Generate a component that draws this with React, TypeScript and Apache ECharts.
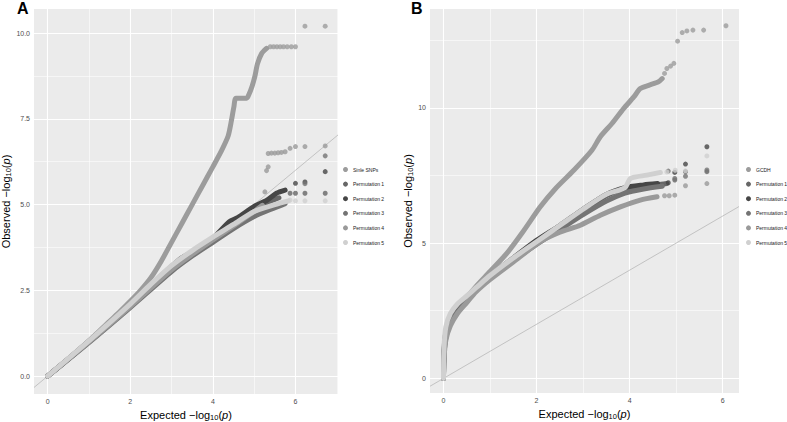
import React, { useEffect, useRef } from "react";
import * as echarts from "echarts";

// ---------- axis limits & ticks ----------
const xLimA = [-0.33, 7.03];
const yLimA = [-0.52, 10.7];
const xLimB = [-0.29, 6.35];
const yLimB = [-0.54, 13.65];
const xTicksA = [0, 2, 4, 6];
const xMinorA = [1, 3, 5, 7];
const yTicksA = [0, 2.5, 5, 7.5, 10];
const yMinorA = [1.25, 3.75, 6.25, 8.75];
const xTicksB = [0, 2, 4, 6];
const xMinorB = [1, 3, 5];
const yTicksB = [0, 5, 10];
const yMinorB = [2.5, 7.5, 12.5];

// ---------- legend names ----------
const namesA = ["Sinle SNPs", "Permutation 1", "Permutation 2", "Permutation 3", "Permutation 4", "Permutation 5"];
const namesB = ["GCDH", "Permutation 1", "Permutation 2", "Permutation 3", "Permutation 4", "Permutation 5"];

// ---------- panel A data ----------
const singleA = [[0,0],[0.5,0.5],[1,1.03],[1.5,1.6],[1.75,1.88],[2,2.18],[2.25,2.5],[2.5,2.87],[2.75,3.35],[3,3.9],[3.25,4.45],[3.5,5.0],[3.75,5.55],[4,6.1],[4.2,6.55],[4.37,7.0],[4.45,7.45],[4.51,7.85],[4.56,8.1],[4.82,8.1],[4.87,8.2],[4.95,8.45],[5.02,8.75],[5.08,9.1],[5.18,9.4],[5.3,9.55]];
const singleATail = [[5.39,9.6],[5.47,9.6],[5.55,9.6],[5.63,9.6],[5.71,9.6],[5.8,9.6],[5.9,9.6],[6.0,9.6],[6.23,10.2],[6.72,10.2]];
const perm1A = [[0,0],[1,1.0],[2,2.05],[3,3.12],[3.2,3.38],[3.5,3.55],[4,3.98],[4.5,4.45],[5,4.88],[5.3,5.05],[5.6,5.2]];
const perm1ATail = [[5.87,5.33],[6.0,5.33],[6.23,5.33],[6.72,5.33]];
const perm2A = [[0,0],[1,1.02],[2,2.08],[2.5,2.65],[3,3.2],[3.25,3.45],[3.5,3.62],[4,4.02],[4.4,4.5],[4.6,4.62],[5,4.95],[5.3,5.12],[5.54,5.33],[5.75,5.42]];
const perm2ATail = [[6.0,5.62],[6.23,5.66],[6.72,5.96]];
const perm3A = [[0,0],[1,0.98],[2,2.0],[3,3.05],[3.5,3.5],[4,3.9],[4.5,4.3],[5,4.65],[5.46,4.89],[5.75,5.03]];
const perm3ATail = [[6.23,5.61],[6.72,6.42]];
const perm4A = [[0,0],[1,1.0],[2,2.03],[3,3.1],[3.5,3.55],[4,3.97],[4.5,4.38],[5,4.8],[5.2,4.98]];
const perm4ATail = [[5.26,5.37],[5.3,5.99],[5.34,6.1],[5.34,6.49],[5.42,6.5],[5.5,6.5],[5.58,6.51],[5.66,6.52],[5.75,6.54],[5.87,6.64],[6.0,6.69],[6.23,6.69],[6.72,6.71]];
const perm5A = [[0,0],[1,1.03],[2,2.1],[2.5,2.68],[3,3.22],[3.5,3.66],[4,4.05],[4.5,4.42],[5,4.8],[5.5,5.0],[5.83,5.11]];
const perm5ATail = [[5.87,5.13],[6.0,5.11],[6.23,5.11],[6.72,5.11]];

// ---------- panel B data ----------
const gcdhB = [[0,0],[0.01,0.8],[0.05,1.6],[0.15,2.2],[0.3,2.6],[0.5,3.0],[0.7,3.4],[1.0,3.95],[1.36,4.62],[1.7,5.4],[2.08,6.34],[2.4,7.0],[2.8,7.69],[3.19,8.43],[3.37,8.93],[3.62,9.42],[3.87,9.97],[4.09,10.4],[4.23,10.71],[4.41,10.83],[4.62,10.96],[4.7,11.08]];
const gcdhBTail = [[4.75,11.27],[4.8,11.45],[4.88,11.54],[4.95,11.64],[5.03,12.46],[5.13,12.78],[5.23,12.84],[5.36,12.87],[5.59,12.87],[6.07,13.03]];
const perm1B = [[0,0],[0.01,1.0],[0.05,1.7],[0.15,2.2],[0.3,2.6],[0.5,2.95],[0.7,3.3],[1.0,3.75],[1.5,4.4],[2.0,5.05],[2.5,5.6],[3.0,6.2],[3.5,6.75],[3.8,6.95],[4.2,7.08],[4.6,7.15],[4.8,7.2]];
const perm1BTail = [[4.97,7.33],[5.2,7.64],[5.66,7.64]];
const perm2B = [[0,0],[0.01,0.9],[0.05,1.6],[0.15,2.15],[0.3,2.55],[0.5,2.95],[0.7,3.3],[1.0,3.78],[1.5,4.45],[2.0,5.1],[2.5,5.65],[3.0,6.25],[3.5,6.8],[3.9,7.05],[4.3,7.15],[4.6,7.2]];
const perm2BTail = [[4.83,7.23],[4.97,7.61],[5.2,7.92],[5.66,8.56]];
const perm3B = [[0,0],[0.01,0.8],[0.05,1.5],[0.15,2.05],[0.3,2.45],[0.5,2.85],[0.7,3.25],[1.0,3.7],[1.5,4.35],[2.0,4.95],[2.5,5.5],[3.0,6.05],[3.5,6.55],[3.9,6.85],[4.3,7.0],[4.7,7.1]];
const perm3BTail = [[4.83,7.66],[4.97,7.39],[5.2,7.47],[5.66,7.7]];
const perm4B = [[0,0],[0.01,0.7],[0.05,1.4],[0.15,1.95],[0.3,2.4],[0.5,2.8],[0.7,3.2],[1.0,3.65],[1.5,4.3],[2.08,5.05],[2.5,5.4],[2.94,5.66],[3.37,6.03],[3.8,6.34],[4.23,6.59],[4.59,6.71]];
const perm4BTail = [[4.75,6.75],[4.85,6.75],[4.97,6.77],[5.2,7.12],[5.66,7.2]];
const perm5B = [[0,0],[0.01,1.1],[0.05,1.9],[0.15,2.4],[0.3,2.75],[0.5,3.05],[0.7,3.35],[1.0,3.8],[1.5,4.45],[2.0,5.05],[2.5,5.65],[3.0,6.25],[3.5,6.8],[3.9,7.05],[4.02,7.39],[4.37,7.51],[4.66,7.61]];
const perm5BTail = [[4.8,7.63],[4.98,7.69],[5.2,7.67],[5.66,8.22]];

const COLORS = ["#9c9c9c", "#676767", "#464646", "#747474", "#9a9a9a", "#d0d0d0"];
const FONT = "'Liberation Sans', Arial, Helvetica, sans-serif";

function pair(name: string, line: number[][], tail: number[][], color: string, idx: number) {
  return [
    {
      type: "line", name, xAxisIndex: idx, yAxisIndex: idx, data: line,
      symbol: "none", showSymbol: false, smooth: 0.25, silent: true, z: 3,
      itemStyle: { color },
      lineStyle: { color, width: 5, cap: "round", join: "round" },
    },
    {
      type: "scatter", name, xAxisIndex: idx, yAxisIndex: idx, data: tail,
      symbol: "circle", symbolSize: 5, silent: true, z: 3,
      itemStyle: { color },
    },
  ];
}

function gridSeries(idx: number, xMaj: number[], xMin: number[], yMaj: number[], yMin: number[]) {
  const mk = (key: string, v: number, w: number) => ({ [key]: v, lineStyle: { color: "#ffffff", width: w, type: "solid" } });
  return {
    type: "line", xAxisIndex: idx, yAxisIndex: idx, data: [], silent: true, z: 1,
    markLine: {
      silent: true, z: 1, symbol: ["none", "none"], label: { show: false }, animation: false,
      data: [
        ...xMin.map((v) => mk("xAxis", v, 0.55)),
        ...yMin.map((v) => mk("yAxis", v, 0.55)),
        ...xMaj.map((v) => mk("xAxis", v, 1.1)),
        ...yMaj.map((v) => mk("yAxis", v, 1.1)),
      ],
    },
  };
}

function diag(idx: number, lim: number[]) {
  return {
    type: "line", xAxisIndex: idx, yAxisIndex: idx, silent: true, z: 2,
    data: [[lim[0], lim[0]], [lim[1], lim[1]]],
    symbol: "none", lineStyle: { color: "#b8b8b8", width: 0.8 },
  };
}

const axisName = (label: string) => `{a|${label} −log}{s|10}{a|(}{i|p}{a|)}`;
const nameRich = {
  a: { fontSize: 11, color: "#000", fontFamily: FONT, lineHeight: 13, verticalAlign: "middle" },
  s: { fontSize: 7.5, color: "#000", fontFamily: FONT, lineHeight: 13, verticalAlign: "bottom" },
  i: { fontSize: 11, color: "#000", fontFamily: FONT, fontStyle: "italic", lineHeight: 13, verticalAlign: "middle" },
};

function xAxis(idx: number, lim: number[], ticks: number[]) {
  return {
    type: "value", gridIndex: idx, min: lim[0], max: lim[1],
    name: axisName("Expected"), nameLocation: "middle", nameGap: 12.5,
    nameTextStyle: { rich: nameRich },
    axisLine: { show: false },
    splitLine: { show: false },
    axisTick: { show: true, length: 2.7, customValues: ticks, lineStyle: { color: "#333", width: 1 } },
    axisLabel: { customValues: ticks, color: "#4d4d4d", fontSize: 7, fontFamily: FONT, margin: 4, formatter: (v: number) => String(v) },
  };
}

function yAxis(idx: number, lim: number[], ticks: number[], digits: number, gap: number) {
  return {
    type: "value", gridIndex: idx, min: lim[0], max: lim[1],
    name: axisName("Observed"), nameLocation: "middle", nameGap: gap, nameRotate: 90,
    nameTextStyle: { rich: nameRich },
    axisLine: { show: false },
    splitLine: { show: false },
    axisTick: { show: true, length: 2.7, customValues: ticks, lineStyle: { color: "#333", width: 1 } },
    axisLabel: { customValues: ticks, color: "#4d4d4d", fontSize: 7, fontFamily: FONT, margin: 4, formatter: (v: number) => v.toFixed(digits) },
  };
}

function legend(left: number, names: string[]) {
  return {
    show: true, orient: "vertical", left, top: 167, icon: "circle", selectedMode: false,
    itemWidth: 5, itemHeight: 5, itemGap: 9.6, padding: 0,
    data: names,
    textStyle: { fontSize: 5, lineHeight: 5, color: "#1a1a1a", fontFamily: FONT },
  };
}

export default function App() {
  const ref = useRef<HTMLDivElement>(null);
  useEffect(() => {
    if (!ref.current) return;
    const chart = echarts.init(ref.current, undefined, { renderer: "svg" });
    const linesA = [singleA, perm1A, perm2A, perm3A, perm4A, perm5A];
    const tailsA = [singleATail, perm1ATail, perm2ATail, perm3ATail, perm4ATail, perm5ATail];
    const linesB = [gcdhB, perm1B, perm2B, perm3B, perm4B, perm5B];
    const tailsB = [gcdhBTail, perm1BTail, perm2BTail, perm3BTail, perm4BTail, perm5BTail];
    const series: any[] = [
      gridSeries(0, xTicksA, xMinorA, yTicksA, yMinorA),
      gridSeries(1, xTicksB, xMinorB, yTicksB, yMinorB),
      diag(0, xLimA),
      diag(1, xLimB),
    ];
    namesA.forEach((n, i) => series.push(...pair(n, linesA[i], tailsA[i], COLORS[i], 0)));
    namesB.forEach((n, i) => series.push(...pair(n, linesB[i], tailsB[i], COLORS[i], 1)));

    chart.setOption({
      animation: false,
      backgroundColor: "#ffffff",
      textStyle: { fontFamily: FONT },
      title: [
        { text: "A", left: 17, top: 0, padding: 0, textStyle: { fontSize: 16, fontWeight: "bold", color: "#000", fontFamily: FONT } },
        { text: "B", left: 411, top: 0, padding: 0, textStyle: { fontSize: 16, fontWeight: "bold", color: "#000", fontFamily: FONT } },
      ],
      grid: [
        { left: 34, top: 9, width: 304, height: 385, show: true, backgroundColor: "#ebebeb", borderWidth: 0, containLabel: false, outerBoundsMode: "none" },
        { left: 430, top: 9, width: 309, height: 384, show: true, backgroundColor: "#ebebeb", borderWidth: 0, containLabel: false, outerBoundsMode: "none" },
      ],
      xAxis: [xAxis(0, xLimA, xTicksA), xAxis(1, xLimB, xTicksB)],
      yAxis: [yAxis(0, yLimA, yTicksA, 1, 19.5), yAxis(1, yLimB, yTicksB, 0, 15.2)],
      legend: [legend(343, namesA), legend(746, namesB)],
      series,
    });
    return () => chart.dispose();
  }, []);
  return <div ref={ref} style={{ position: "fixed", left: 0, top: 0, width: 787, height: 422 }} />;
}
